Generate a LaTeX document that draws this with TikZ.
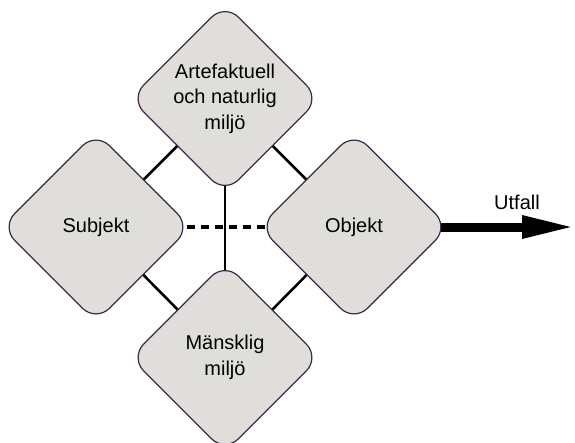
\documentclass[tikz,border=0pt]{standalone}
\usepackage{fontspec}
\setmainfont{Liberation Sans}
\usetikzlibrary{shapes.geometric,arrows.meta,backgrounds}
\definecolor{boxgrey}{RGB}{223,222,218}
\definecolor{boxline}{RGB}{62,40,72}

\begin{document}
\begin{tikzpicture}[x=1pt,y=-1pt,
		corner/.style={diamond, aspect=1, draw=boxline, line width=1.2pt, fill=boxgrey,
			rounded corners=19pt, minimum size=190pt, inner sep=0pt, align=center,
			font=\fontsize{20}{25.5}\selectfont},
		link/.style={line width=2.6pt},
		weaklink/.style={line width=4.5pt, dash pattern=on 8pt off 6pt},
		outcome/.style={line width=9pt, -{Triangle[length=53pt,width=21pt]}}
			]
	\useasboundingbox (0,0) rectangle (575,442);

	\node[corner] (milieu) at (225,98.5) {Artefaktuell\\och naturlig\\miljö};
	\node[corner] (subj) at (96,227) {Subjekt};
	\node[corner] (obj) at (354,227) {Objekt};
	\node[corner] (human) at (225,357.5) {Mänsklig\\miljö};

	\coordinate (end) at (575,227);
	\node[font=\fontsize{20}{24}\selectfont] (outlabel) at (517,202) {Utfall};

	\begin{scope}[on background layer]
		\draw[link] (milieu.center) -- (subj.center);
		\draw[link] (milieu.center) -- (obj.center);
		\draw[link] (human.center) -- (subj.center);
		\draw[link] (human.center) -- (obj.center);
		\draw[link] (milieu.center) -- (human.center);
		\draw[weaklink, shorten <=-5pt] (subj.east) -- (obj.center);
		\draw[outcome] (obj.center) -- (end);
	\end{scope}
\end{tikzpicture}
\end{document}
